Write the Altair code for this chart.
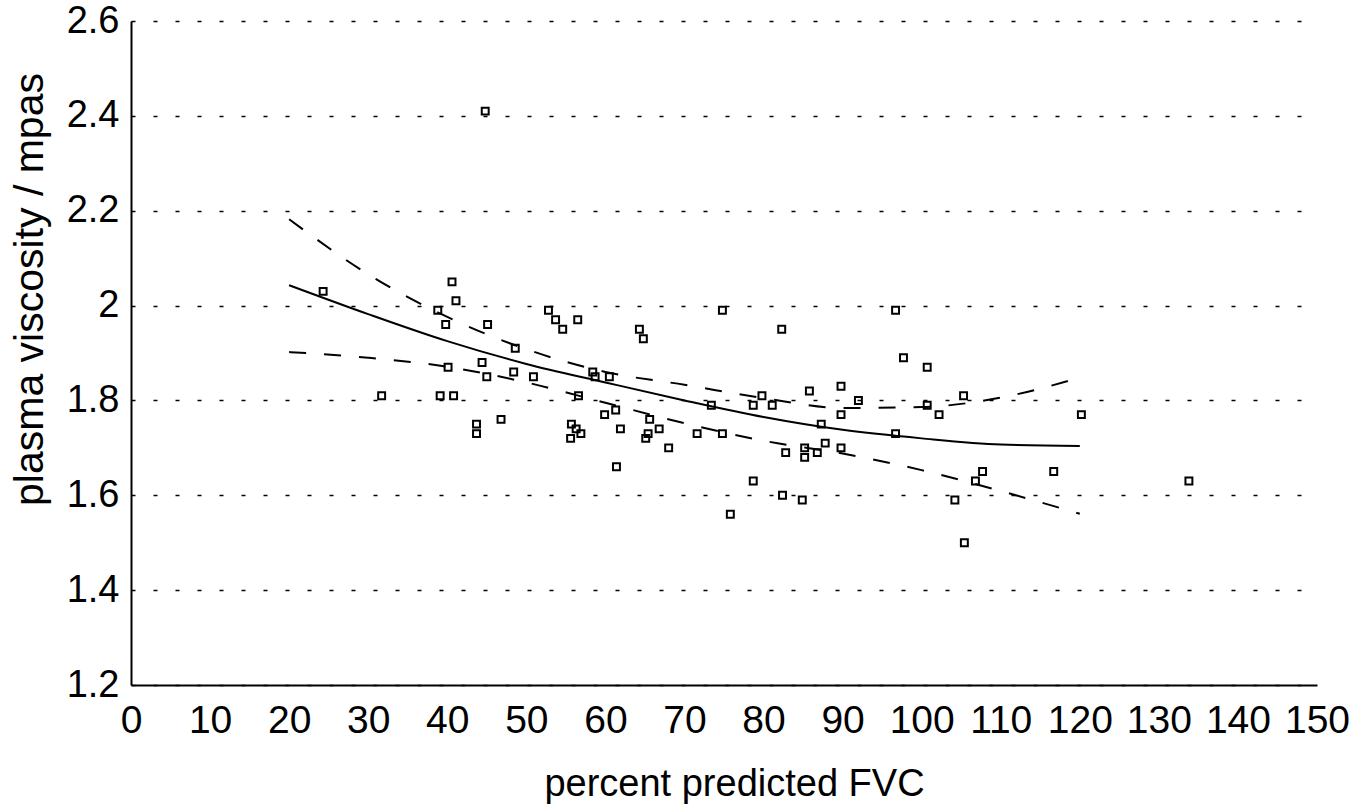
import altair as alt
import pandas as pd

# Measured patients: percent predicted FVC vs plasma viscosity (mPa·s)
fvc = [24.3, 31.7, 44.8, 40.6, 41.1, 38.8, 39.8, 45.1, 52.8, 53.7,
       54.6, 56.5, 64.3, 64.8, 48.6, 40.1, 44.4, 45.0, 48.4, 50.9,
       58.4, 58.7, 60.5, 39.1, 40.8, 56.6, 59.9, 61.3, 65.6, 46.8,
       43.7, 43.7, 55.7, 56.3, 56.9, 55.6, 61.9, 65.4, 65.1, 66.8,
       68.0, 61.4, 74.8, 96.7, 82.3, 97.7, 100.7, 85.8, 89.8, 79.8,
       78.7, 81.1, 73.4, 92.0, 89.8, 100.7, 102.2, 71.6, 74.8, 87.3,
       96.7, 85.2, 87.8, 89.8, 82.8, 86.8, 85.2, 78.7, 82.4, 84.9,
       75.8, 105.3, 120.2, 107.7, 106.8, 116.7, 133.8, 104.2, 105.4]
viscosity = [2.03, 1.81, 2.41, 2.05, 2.01, 1.99, 1.96, 1.96, 1.99, 1.97,
             1.95, 1.97, 1.95, 1.93, 1.91, 1.87, 1.88, 1.85, 1.86, 1.85,
             1.86, 1.85, 1.85, 1.81, 1.81, 1.81, 1.77, 1.78, 1.76, 1.76,
             1.75, 1.73, 1.75, 1.74, 1.73, 1.72, 1.74, 1.73, 1.72, 1.74,
             1.70, 1.66, 1.99, 1.99, 1.95, 1.89, 1.87, 1.82, 1.83, 1.81,
             1.79, 1.79, 1.79, 1.80, 1.77, 1.79, 1.77, 1.73, 1.73, 1.75,
             1.73, 1.70, 1.71, 1.70, 1.69, 1.69, 1.68, 1.63, 1.60, 1.59,
             1.56, 1.81, 1.77, 1.65, 1.63, 1.65, 1.63, 1.59, 1.50]

# Fitted curve and its confidence limits
fit_x = [20, 30, 40, 50, 60, 70, 80, 90, 100, 110, 120]
fit_mid = [2.043, 1.982, 1.925, 1.877, 1.838, 1.800, 1.765, 1.738, 1.720, 1.707, 1.704]
fit_upper = [2.182, 2.066, 1.976, 1.908, 1.860, 1.833, 1.805, 1.784, 1.786, 1.806, 1.848]
fit_lower = [1.902, 1.890, 1.871, 1.838, 1.795, 1.752, 1.715, 1.688, 1.653, 1.609, 1.561]

x_ticks = list(range(0, 151, 10))
y_ticks = [1.2, 1.4, 1.6, 1.8, 2.0, 2.2, 2.4, 2.6]

FONT = "Liberation Sans"

pts = pd.DataFrame({"fvc": fvc, "visc": viscosity})
mid = pd.DataFrame({"fvc": fit_x, "visc": fit_mid})
bands = pd.DataFrame({
    "fvc": fit_x + fit_x,
    "visc": fit_upper + fit_lower,
    "limit": ["upper"] * len(fit_x) + ["lower"] * len(fit_x),
})

x_scale = alt.Scale(domain=[0, 150], nice=False, zero=False)
y_scale = alt.Scale(domain=[1.2, 2.6], nice=False, zero=False)

x_axis = alt.Axis(
    title="percent predicted FVC",
    values=x_ticks, format="d", grid=False, ticks=False,
    domainColor="black", domainWidth=2,
    labelFont=FONT, labelFontSize=39, labelColor="black", labelPadding=16,
    labelFlush=False, labelOverlap=False,
    titleFont=FONT, titleFontSize=38, titleFontWeight="normal", titleColor="black",
    titleX=603, titleY=110, titleAlign="center", titleBaseline="alphabetic",
)
y_axis = alt.Axis(
    title="plasma viscosity / mpas",
    values=y_ticks, format="~g", ticks=False,
    grid=True, gridColor="black", gridWidth=1.6, gridDash=[4, 18],
    domainColor="black", domainWidth=2,
    labelFont=FONT, labelFontSize=38, labelColor="black", labelPadding=12,
    labelFlush=False, labelOverlap=False,
    titleFont=FONT, titleFontSize=41, titleFontWeight="normal", titleColor="black",
    titleX=-89, titleY=268, titleAngle=270, titleAlign="center",
    titleBaseline="alphabetic",
)

base_x = alt.X("fvc:Q", scale=x_scale, axis=x_axis)
base_y = alt.Y("visc:Q", scale=y_scale, axis=y_axis)

points = alt.Chart(pts).mark_point(
    shape="square", filled=False, size=48, stroke="black", strokeWidth=2, opacity=1
).encode(x=base_x, y=base_y)

fit_line = alt.Chart(mid).mark_line(
    color="black", strokeWidth=2, interpolate="monotone"
).encode(x=alt.X("fvc:Q", scale=x_scale), y=alt.Y("visc:Q", scale=y_scale))

band_lines = alt.Chart(bands).mark_line(
    color="black", strokeWidth=2, strokeDash=[17, 18], interpolate="monotone"
).encode(
    x=alt.X("fvc:Q", scale=x_scale),
    y=alt.Y("visc:Q", scale=y_scale),
    detail="limit:N",
)

chart = alt.layer(points, fit_line, band_lines).properties(
    width=1186,
    height=664,
    autosize=alt.AutoSizeParams(type="none"),
    padding={"left": 131, "top": 21, "right": 44, "bottom": 127},
    background="white",
).configure_view(stroke=None)

chart.save("out.html", embed_options={"renderer": "svg", "actions": False})
